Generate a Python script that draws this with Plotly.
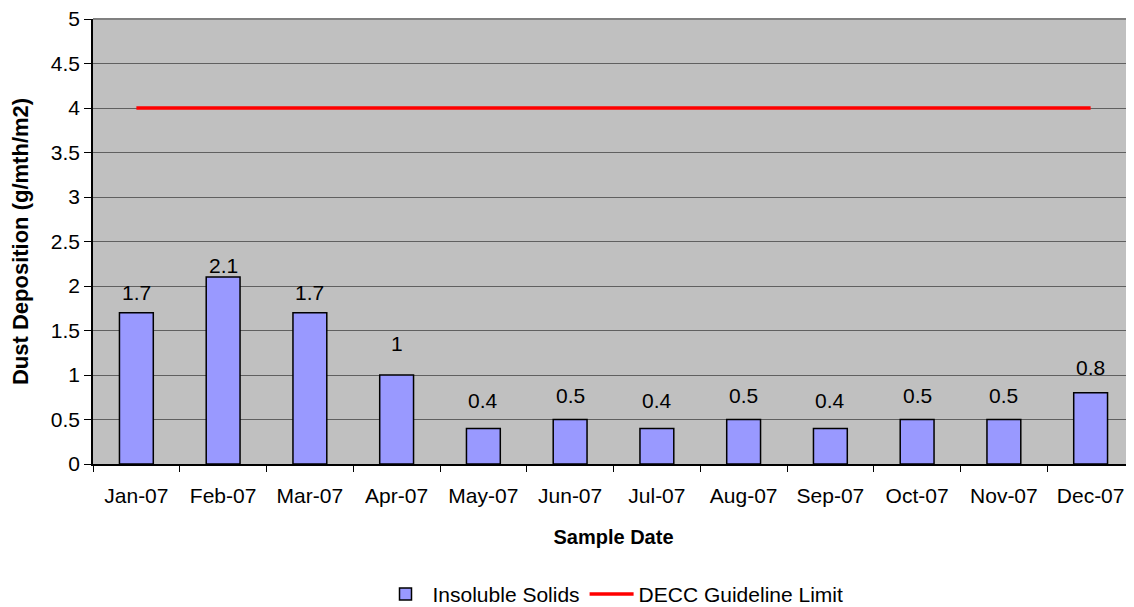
import plotly.graph_objects as go

categories = ["Jan-07", "Feb-07", "Mar-07", "Apr-07", "May-07", "Jun-07",
              "Jul-07", "Aug-07", "Sep-07", "Oct-07", "Nov-07", "Dec-07"]
insoluble_solids = [1.7, 2.1, 1.7, 1.0, 0.4, 0.5, 0.4, 0.5, 0.4, 0.5, 0.5, 0.8]
guideline_limit = [4, 4, 4, 4, 4, 4, 4, 4, 4, 4, 4, 4]
y_ticks = [0, 0.5, 1, 1.5, 2, 2.5, 3, 3.5, 4, 4.5, 5]
y_tick_labels = ["0", "0.5", "1", "1.5", "2", "2.5", "3", "3.5", "4", "4.5", "5"]

# pixel offsets of the value labels above the bars (style only)
label_shift = [20, 12, 20, 32, 28, 24, 28, 24, 28, 24, 24, 25]

FONT = "Liberation Sans, Arial, sans-serif"
FS = 21

fig = go.Figure()
fig.add_trace(go.Bar(
    x=categories, y=insoluble_solids, name="Insoluble Solids",
    marker=dict(color="#9999FF", line=dict(color="#000000", width=1.5)),
))
fig.add_trace(go.Scatter(
    x=categories, y=guideline_limit, name="DECC Guideline Limit",
    mode="lines", line=dict(color="#FF0000", width=3.5),
))

for c, v, s in zip(categories, insoluble_solids, label_shift):
    fig.add_annotation(x=c, y=v, text=f"{v:g}", showarrow=False,
                       yshift=s, font=dict(family=FONT, size=FS, color="#000000"))

# page has an 8px body margin, so the figure is sized to fit the window
fig.update_layout(
    width=1126, height=599,
    margin=dict(l=85, r=0, t=11, b=143, autoexpand=False),
    paper_bgcolor="#FFFFFF", plot_bgcolor="#C0C0C0",
    bargap=0.61,
    font=dict(family=FONT, size=FS, color="#000000"),
    showlegend=True,
    legend=dict(orientation="h", x=0.5, xanchor="center", y=-0.293, yanchor="middle",
                font=dict(family=FONT, size=FS), traceorder="normal",
                itemwidth=44),
)
fig.update_xaxes(
    type="category", showgrid=False, automargin=False,
    showline=True, linecolor="#000000", linewidth=1.5,
    ticks="outside", tickson="boundaries", ticklen=6, tickcolor="#000000",
    ticklabelstandoff=12, ticklabeloverflow="allow",
    tickfont=dict(family=FONT, size=FS),
    title=dict(text="<b>Sample Date</b>", font=dict(family=FONT, size=20), standoff=24),
    mirror=False,
)
fig.update_yaxes(
    range=[0, 5], tickvals=y_ticks, ticktext=y_tick_labels, automargin=False,
    showgrid=True, gridcolor="#606060", gridwidth=1,
    showline=True, linecolor="#000000", linewidth=1.5,
    ticks="outside", ticklen=7, tickcolor="#000000",
    ticklabeloverflow="allow",
    tickfont=dict(family=FONT, size=FS),
    title=dict(text="<b>Dust Deposition (g/mth/m2)</b>", font=dict(family=FONT, size=22), standoff=25),
    zeroline=False,
)
# top border of plot area (gray)
fig.add_shape(type="line", xref="paper", yref="paper", x0=0, x1=1, y0=1, y1=1,
              line=dict(color="#808080", width=2))

fig.write_html("out.html")
